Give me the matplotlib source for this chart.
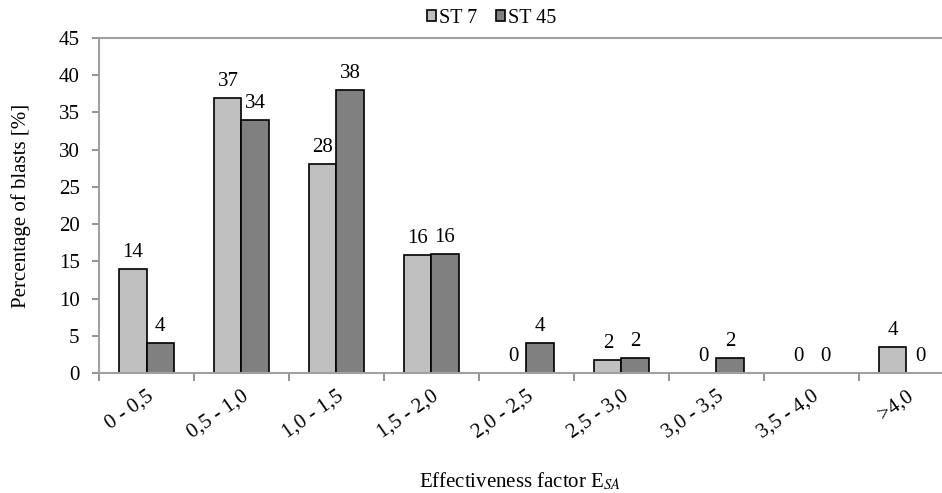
import numpy as np
import matplotlib.pyplot as plt
from matplotlib.ticker import FixedLocator

plt.rcParams['font.family'] = ['Liberation Serif', 'DejaVu Serif']
plt.rcParams['mathtext.fontset'] = 'stix'

categories = ['0 - 0,5', '0,5 - 1,0', '1,0 - 1,5', '1,5 - 2,0', '2,0 - 2,5',
              '2,5 - 3,0', '3,0 - 3,5', '3,5 - 4,0', '>4,0']
st7 = [14.0, 36.9, 28.1, 15.8, 0, 1.8, 0, 0, 3.5]
st45 = [4.0, 34.0, 38.0, 16.0, 4.0, 2.0, 2.0, 0, 0]
st7_labels = [14, 37, 28, 16, 0, 2, 0, 0, 4]
st45_labels = [4, 34, 38, 16, 4, 2, 2, 0, 0]

fs = 15

fig = plt.figure(figsize=(9.42, 4.93), dpi=100)
ax = fig.add_axes([0.1051, 0.2434, 0.8949, 0.6795])

x = np.arange(len(categories))
w = 0.285
b1 = ax.bar(x - w / 2, st7, w, color='#c0c0c0', edgecolor='black', linewidth=1.2, label='ST 7')
b2 = ax.bar(x + w / 2, st45, w, color='#808080', edgecolor='black', linewidth=1.2, label='ST 45')

# value labels above the bars
for xi, v, lab in zip(x - w / 2, st7, st7_labels):
    ax.annotate(str(lab), (xi, v), xytext=(0, 5), textcoords='offset points',
                ha='center', va='bottom', fontsize=fs)
for xi, v, lab in zip(x + w / 2, st45, st45_labels):
    ax.annotate(str(lab), (xi, v), xytext=(0, 5), textcoords='offset points',
                ha='center', va='bottom', fontsize=fs)

ax.set_xlim(-0.5, 8.374)
ax.set_ylim(0, 45)
ax.set_yticks(np.arange(0, 46, 5))
ax.tick_params(axis='y', labelsize=fs, color='#808080', length=5, width=1.2, pad=9)

ax.set_xticks(x)
ax.set_xticklabels(categories, rotation=35, ha='right', rotation_mode='anchor', fontsize=fs)
ax.tick_params(axis='x', which='major', length=0, pad=10)
ax.xaxis.set_minor_locator(FixedLocator(np.arange(-0.5, 9, 1)))
ax.tick_params(axis='x', which='minor', length=6, width=1.2, color='#808080')

for s in ['left', 'bottom', 'top']:
    ax.spines[s].set_color('#a0a0a0')
    ax.spines[s].set_linewidth(1.5)
ax.spines['right'].set_visible(False)

ax.set_ylabel('Percentage of blasts [%]', fontsize=fs, labelpad=20)
ax.set_xlabel('Effectiveness factor E$_{SA}$', fontsize=fs, labelpad=20)

fig.legend(handles=[b1, b2], loc='center', bbox_to_anchor=(0.522, 0.963), ncol=2,
           frameon=False, fontsize=14.5, handlelength=0.45, handleheight=0.45,
           handletextpad=0.15, columnspacing=0.9)

fig.savefig('out.png', dpi=100)
